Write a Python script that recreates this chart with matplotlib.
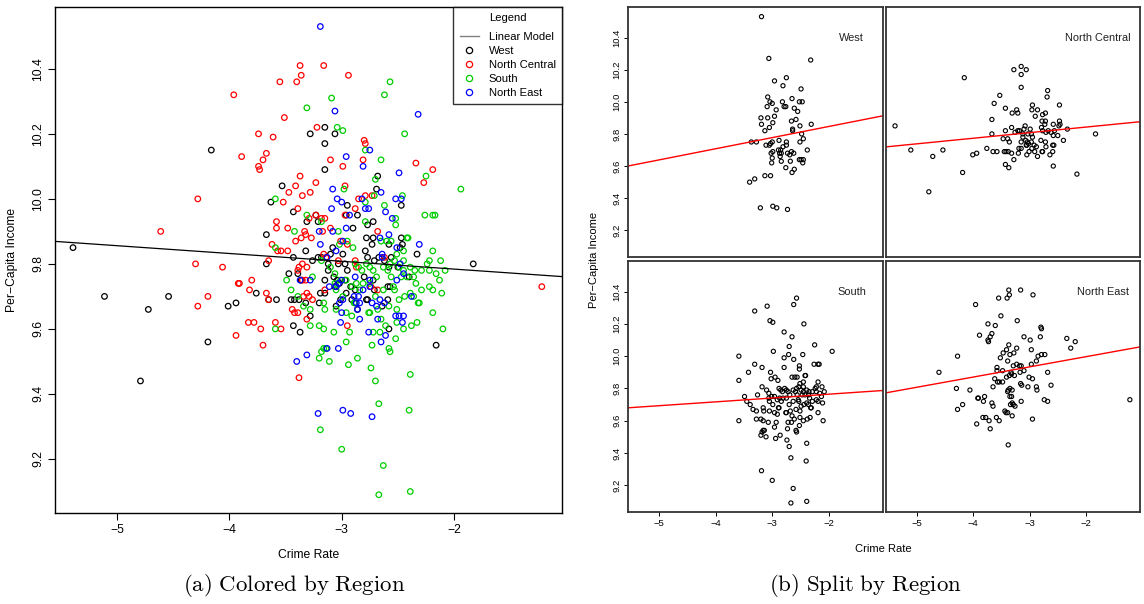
import matplotlib
matplotlib.use('Agg')
import matplotlib.pyplot as plt
from matplotlib.lines import Line2D
from matplotlib.ticker import FormatStrFormatter

plt.rcParams['font.family'] = ['Liberation Sans', 'DejaVu Sans']
plt.rcParams['mathtext.fontset'] = 'cm'

# (crime rate, per-capita income) points, grouped as coloured in panel (a)
west_pts = [(-5.39, 9.85), (-5.11, 9.70), (-4.72, 9.66), (-4.54, 9.70), (-4.79, 9.44), (-4.16, 10.15),
            (-4.19, 9.56), (-4.01, 9.67), (-3.94, 9.68), (-3.76, 9.71), (-3.65, 9.69), (-3.58, 9.69),
            (-3.67, 9.89), (-3.63, 9.99), (-3.53, 10.04), (-3.28, 10.20), (-3.15, 10.22), (-3.06, 10.20),
            (-3.15, 10.17), (-3.15, 10.09), (-2.68, 10.07), (-2.69, 10.03), (-2.47, 9.98), (-3.43, 9.96),
            (-3.31, 9.93), (-3.23, 9.95), (-3.21, 9.93), (-2.95, 9.98), (-2.96, 9.95), (-2.86, 9.95),
            (-2.72, 9.93), (-2.77, 9.92), (-2.90, 9.91), (-2.78, 9.88), (-2.72, 9.88), (-2.73, 9.86),
            (-2.58, 9.86), (-2.47, 9.88), (-2.46, 9.86), (-2.48, 9.85), (-2.33, 9.83), (-1.83, 9.80),
            (-3.67, 9.80), (-3.43, 9.82), (-3.32, 9.84), (-3.21, 9.82), (-3.26, 9.81), (-3.18, 9.82),
            (-3.10, 9.83), (-3.08, 9.85), (-2.99, 9.83), (-2.97, 9.80), (-3.03, 9.80), (-3.12, 9.80),
            (-3.12, 9.78), (-2.79, 9.84), (-2.77, 9.82), (-2.71, 9.81), (-2.67, 9.82), (-2.62, 9.81),
            (-2.56, 9.82), (-2.58, 9.79), (-2.50, 9.79), (-2.40, 9.76), (-3.47, 9.77), (-3.39, 9.77),
            (-3.36, 9.75), (-3.15, 9.75), (-3.07, 9.76), (-3.04, 9.75), (-2.97, 9.75), (-2.95, 9.78),
            (-2.80, 9.76), (-2.72, 9.75), (-3.42, 9.69), (-3.38, 9.69), (-3.45, 9.69), (-3.32, 9.68),
            (-3.20, 9.68), (-3.15, 9.71), (-3.06, 9.73), (-3.05, 9.73), (-3.02, 9.74), (-2.92, 9.73),
            (-2.88, 9.72), (-3.05, 9.67), (-3.01, 9.69), (-2.91, 9.69), (-2.86, 9.66), (-2.78, 9.69),
            (-2.77, 9.69), (-2.71, 9.72), (-2.59, 9.73), (-2.57, 9.73), (-2.59, 9.69), (-2.64, 9.67),
            (-3.43, 9.61), (-3.37, 9.59), (-3.28, 9.64), (-2.58, 9.60), (-2.16, 9.55), (-3.19, 9.71),
            (-2.96, 9.71)]

north_central_pts = [(-3.16, 10.41), (-3.37, 10.41), (-3.36, 10.38), (-3.40, 10.36), (-3.55, 10.36),
                     (-2.94, 10.38), (-3.96, 10.32), (-3.51, 10.25), (-3.22, 10.22), (-3.74, 10.20),
                     (-3.61, 10.19), (-3.89, 10.13), (-3.67, 10.14), (-3.70, 10.12), (-3.74, 10.10),
                     (-3.73, 10.09), (-3.10, 10.12), (-2.80, 10.18), (-2.79, 10.17), (-2.81, 10.12),
                     (-2.99, 10.10), (-3.37, 10.07), (-3.41, 10.04), (-3.47, 10.02), (-3.23, 10.05),
                     (-3.28, 10.02), (-3.35, 10.01), (-3.52, 9.99), (-3.39, 9.97), (-2.97, 10.04),
                     (-4.28, 10.00), (-2.34, 10.11), (-2.19, 10.09), (-2.27, 10.05), (-2.85, 10.00),
                     (-2.79, 10.01), (-2.73, 10.01), (-2.88, 9.97), (-2.97, 9.95), (-3.15, 9.94),
                     (-3.23, 9.95), (-3.29, 9.94), (-3.58, 9.93), (-3.58, 9.91), (-3.48, 9.91),
                     (-3.10, 9.91), (-3.17, 9.90), (-3.33, 9.90), (-3.32, 9.89), (-3.36, 9.88),
                     (-3.41, 9.87), (-3.27, 9.88), (-2.68, 9.90), (-4.61, 9.90), (-3.62, 9.86),
                     (-3.57, 9.84), (-3.54, 9.84), (-3.48, 9.84), (-3.65, 9.81), (-3.01, 9.87),
                     (-2.95, 9.86), (-3.03, 9.81), (-3.16, 9.83), (-3.14, 9.82), (-2.88, 9.81),
                     (-2.87, 9.79), (-2.62, 9.82), (-4.30, 9.80), (-4.06, 9.79), (-3.38, 9.79),
                     (-3.35, 9.80), (-3.31, 9.79), (-3.39, 9.78), (-3.35, 9.75), (-3.32, 9.75),
                     (-3.91, 9.74), (-3.92, 9.74), (-3.80, 9.75), (-3.82, 9.72), (-3.67, 9.71),
                     (-3.65, 9.69), (-4.19, 9.70), (-4.28, 9.67), (-3.31, 9.71), (-3.29, 9.70),
                     (-3.34, 9.70), (-3.26, 9.69), (-3.15, 9.72), (-2.74, 9.73), (-2.68, 9.72),
                     (-3.44, 9.66), (-3.42, 9.65), (-3.39, 9.65), (-3.83, 9.62), (-3.78, 9.62),
                     (-3.59, 9.62), (-3.72, 9.60), (-3.54, 9.60), (-3.31, 9.63), (-2.95, 9.61),
                     (-3.94, 9.58), (-3.70, 9.55), (-3.38, 9.45), (-1.22, 9.73), (-3.18, 9.94)]

south_pts = [(-2.57, 10.36), (-2.62, 10.32), (-3.09, 10.31), (-3.31, 10.28), (-3.04, 10.22), (-2.99, 10.21),
             (-2.44, 10.20), (-2.79, 10.15), (-2.65, 10.12), (-2.70, 10.06), (-2.25, 10.07), (-1.94, 10.03),
             (-2.98, 10.03), (-2.71, 10.01), (-2.46, 10.01), (-2.79, 9.99), (-2.62, 9.98), (-3.59, 10.00),
             (-3.31, 9.95), (-3.18, 9.93), (-2.79, 9.93), (-2.52, 9.94), (-2.52, 9.92), (-2.26, 9.95),
             (-2.19, 9.95), (-2.17, 9.95), (-3.42, 9.90), (-3.03, 9.90), (-3.02, 9.86), (-2.95, 9.87),
             (-2.90, 9.85), (-2.65, 9.87), (-2.60, 9.87), (-2.56, 9.87), (-2.42, 9.88), (-2.41, 9.88),
             (-2.19, 9.84), (-3.59, 9.85), (-3.18, 9.81), (-3.10, 9.79), (-3.06, 9.77), (-3.01, 9.75),
             (-2.96, 9.75), (-2.88, 9.80), (-2.85, 9.79), (-2.82, 9.78), (-2.78, 9.80), (-2.75, 9.79),
             (-2.91, 9.73), (-2.87, 9.74), (-2.72, 9.78), (-2.69, 9.76), (-2.63, 9.79), (-2.59, 9.78),
             (-2.57, 9.80), (-2.53, 9.81), (-2.51, 9.83), (-2.49, 9.79), (-2.45, 9.78), (-2.47, 9.76),
             (-2.42, 9.76), (-2.45, 9.81), (-2.39, 9.79), (-2.35, 9.78), (-2.29, 9.78), (-2.24, 9.80),
             (-2.22, 9.78), (-2.12, 9.81), (-2.08, 9.78), (-2.13, 9.75), (-3.49, 9.75), (-3.45, 9.72),
             (-3.39, 9.70), (-3.26, 9.76), (-3.34, 9.67), (-3.16, 9.68), (-3.15, 9.66), (-3.05, 9.72),
             (-3.05, 9.66), (-2.96, 9.65), (-2.91, 9.64), (-2.88, 9.68), (-2.75, 9.74), (-2.63, 9.72),
             (-2.70, 9.70), (-2.75, 9.65), (-2.68, 9.66), (-2.58, 9.67), (-2.53, 9.72), (-2.49, 9.69),
             (-2.44, 9.70), (-2.39, 9.71), (-2.36, 9.70), (-2.32, 9.68), (-2.31, 9.68), (-2.22, 9.73),
             (-2.19, 9.72), (-2.11, 9.71), (-2.19, 9.65), (-2.10, 9.60), (-3.59, 9.60), (-3.28, 9.61),
             (-3.20, 9.61), (-3.07, 9.59), (-2.96, 9.56), (-2.93, 9.59), (-2.72, 9.59), (-2.66, 9.59),
             (-2.76, 9.65), (-2.61, 9.61), (-2.51, 9.62), (-2.45, 9.60), (-2.38, 9.61), (-2.33, 9.62),
             (-2.73, 9.55), (-2.57, 9.53), (-2.58, 9.54), (-2.52, 9.57), (-3.18, 9.53), (-3.16, 9.54),
             (-3.14, 9.54), (-3.20, 9.51), (-3.11, 9.50), (-2.94, 9.49), (-2.86, 9.51), (-2.74, 9.48),
             (-2.70, 9.44), (-2.67, 9.37), (-2.39, 9.46), (-2.40, 9.35), (-3.19, 9.29), (-3.00, 9.23),
             (-2.63, 9.18), (-2.67, 9.09), (-2.39, 9.10), (-2.81, 9.74), (-2.84, 9.72), (-2.34, 9.74),
             (-2.29, 9.72), (-2.16, 9.77), (-3.28, 9.66), (-2.99, 9.70), (-2.89, 9.68), (-2.56, 9.76),
             (-2.36, 9.76), (-2.45, 9.84), (-2.51, 9.66), (-2.65, 9.63), (-2.22, 9.81), (-3.16, 9.60),
             (-3.06, 9.74), (-2.54, 9.73)]

north_east_pts = [(-3.19, 10.53), (-3.06, 10.27), (-2.32, 10.26), (-2.96, 10.13), (-2.75, 10.15),
                  (-2.81, 10.10), (-3.08, 10.03), (-3.04, 10.00), (-3.00, 9.99), (-3.09, 9.97),
                  (-2.82, 10.00), (-2.65, 10.02), (-2.49, 10.08), (-2.52, 10.00), (-2.47, 10.00),
                  (-2.93, 9.95), (-2.79, 9.97), (-2.76, 9.97), (-2.61, 9.96), (-2.55, 9.94),
                  (-3.20, 9.90), (-3.08, 9.90), (-2.96, 9.91), (-2.99, 9.87), (-3.19, 9.86),
                  (-3.05, 9.84), (-3.13, 9.82), (-2.66, 9.88), (-2.58, 9.89), (-2.64, 9.83),
                  (-2.64, 9.82), (-2.31, 9.86), (-2.51, 9.85), (-2.48, 9.80), (-2.45, 9.77),
                  (-2.51, 9.75), (-3.37, 9.75), (-3.28, 9.75), (-3.00, 9.75), (-3.03, 9.74),
                  (-3.05, 9.73), (-3.11, 9.73), (-2.88, 9.76), (-2.75, 9.75), (-2.81, 9.72),
                  (-2.75, 9.73), (-2.99, 9.69), (-3.02, 9.68), (-2.89, 9.70), (-2.85, 9.70),
                  (-2.87, 9.68), (-2.84, 9.68), (-2.73, 9.68), (-2.66, 9.69), (-2.62, 9.68),
                  (-2.69, 9.67), (-2.38, 9.70), (-3.00, 9.65), (-2.86, 9.66), (-2.84, 9.63),
                  (-3.01, 9.62), (-2.68, 9.63), (-2.52, 9.64), (-2.49, 9.64), (-2.45, 9.64),
                  (-2.46, 9.62), (-2.76, 9.59), (-2.61, 9.58), (-2.65, 9.56), (-3.13, 9.54),
                  (-3.03, 9.54), (-3.31, 9.52), (-3.40, 9.50), (-3.21, 9.34), (-2.99, 9.35),
                  (-2.92, 9.34), (-2.73, 9.33)]

# linear fits (intercept, slope) as drawn
lm_all = (9.736, -0.0240)
split_titles = ['West', 'North Central', 'South', 'North East']
split_fits = [(9.985, 0.0693), (9.912, 0.0347), (9.812, 0.0238), (10.123, 0.0631)]

XLIM = (-5.55, -1.04)
YLIM = (9.034, 10.59)
XTICKS = [-5, -4, -3, -2]
YTICKS = [9.2, 9.4, 9.6, 9.8, 10.0, 10.2, 10.4]

groups = [(west_pts, 'black', 'West'),
          (north_central_pts, '#ff0000', 'North Central'),
          (south_pts, '#00cd00', 'South'),
          (north_east_pts, '#0000ff', 'North East')]
# which group each panel of (b) shows
split_pts = [north_east_pts, west_pts, south_pts, north_central_pts]


def xy(pts):
    return [p[0] for p in pts], [p[1] for p in pts]


fig = plt.figure(figsize=(11.44, 6.04), dpi=100)

# ---- (a) coloured by region
ax = fig.add_axes([0.0481, 0.1507, 0.4432, 0.8377])
for pts, c, lab in groups:
    x, y = xy(pts)
    ax.scatter(x, y, s=16, facecolors='none', edgecolors=c, linewidths=0.9)
ax.axline((0, lm_all[0]), slope=lm_all[1], color='black', lw=0.9)
ax.set_xlim(XLIM)
ax.set_ylim(YLIM)
ax.set_xticks(XTICKS)
ax.set_yticks(YTICKS)
ax.yaxis.set_major_formatter(FormatStrFormatter('%.1f'))
ax.tick_params(length=5, width=0.8, labelsize=8.7, pad=3)
ax.tick_params(axis='y', labelrotation=90)
for lab in ax.get_yticklabels():
    lab.set_va('center')
for s in ax.spines.values():
    s.set_linewidth(1.0)
ax.set_xlabel('Crime Rate', fontsize=8.7, labelpad=9)
ax.set_ylabel('Per\u2212Capita Income', fontsize=8.7, labelpad=10)

handles = [Line2D([], [], color='gray', lw=1, label='Linear Model')]
for pts, c, lab in groups:
    handles.append(Line2D([], [], ls='none', marker='o', mfc='none', mec=c, ms=4.5, mew=0.9, label=lab))
leg = ax.legend(handles=handles, title='Legend', loc='upper right', fontsize=8.1, title_fontsize=8.1,
                frameon=True, fancybox=False, edgecolor='black', borderaxespad=0,
                handlelength=1.7, handletextpad=0.9, labelspacing=0.36, borderpad=0.55)
leg.get_frame().set_linewidth(1.0)
leg._legend_box.sep = 6

fig.text(0.257, 0.022, r'$\mathrm{(a)\ Colored\ by\ Region}$', fontsize=16.5, ha='center')

# ---- (b) split by region
pos = [[0.549, 0.5745, 0.2229, 0.4139], [0.7745, 0.5745, 0.222, 0.4139],
       [0.549, 0.1523, 0.2229, 0.4156], [0.7745, 0.1523, 0.222, 0.4156]]
title_x = [0.875, 0.833, 0.877, 0.854]
for i in range(4):
    b = fig.add_axes(pos[i])
    x, y = xy(split_pts[i])
    b.scatter(x, y, s=9, facecolors='none', edgecolors='black', linewidths=0.8)
    b.axline((0, split_fits[i][0]), slope=split_fits[i][1], color='#ff0000', lw=1.0)
    b.set_xlim(XLIM)
    b.set_ylim(YLIM)
    b.set_xticks(XTICKS)
    b.set_yticks(YTICKS)
    b.yaxis.set_major_formatter(FormatStrFormatter('%.1f'))
    b.tick_params(length=3, width=0.7, labelsize=6.8, pad=2)
    b.tick_params(axis='y', labelrotation=90)
    for lab in b.get_yticklabels():
        lab.set_va('center')
    if i % 2 == 1:
        b.tick_params(axis='y', left=False, labelleft=False)
    if i < 2:
        b.tick_params(axis='x', bottom=False, labelbottom=False)
    for s in b.spines.values():
        s.set_linewidth(1.3)
        s.set_color('#333333')
    b.text(title_x[i], 0.876, split_titles[i], transform=b.transAxes, fontsize=7.9,
           ha='center', va='center', color='#222222')

fig.text(0.5195, 0.5695, 'Per\u2212Capita Income', rotation=90, fontsize=8, ha='center', va='center')
fig.text(0.772, 0.091, 'Crime Rate', fontsize=8, ha='center', va='center')
fig.text(0.757, 0.022, r'$\mathrm{(b)\ Split\ by\ Region}$', fontsize=16.5, ha='center')

fig.savefig('out.png', dpi=100)
